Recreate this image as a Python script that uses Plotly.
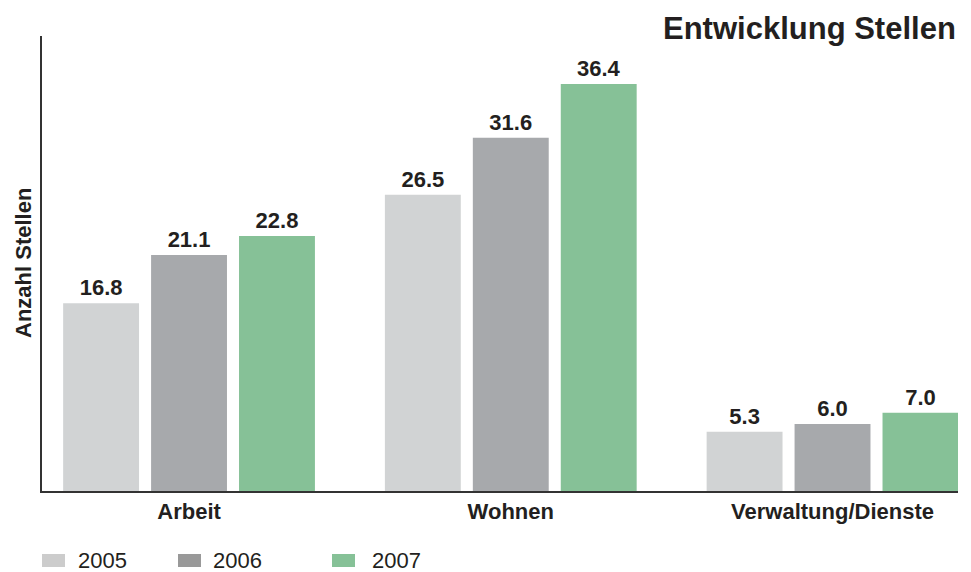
import plotly.graph_objects as go

categories = ["Arbeit", "Wohnen", "Verwaltung/Dienste"]
years = ["2005", "2006", "2007"]
values_2005 = [16.8, 26.5, 5.3]
values_2006 = [21.1, 31.6, 6.0]
values_2007 = [22.8, 36.4, 7.0]
series = [values_2005, values_2006, values_2007]

bar_colors = ["#d1d3d4", "#a7a9ac", "#86c197"]
legend_colors = ["#cccccc", "#999999", "#86c197"]
text_color = "#231f20"
FONT = "Liberation Sans, Arial, Helvetica, sans-serif"

W, H = 971, 572
ML, MR, MT, MB = 42, 13, 36, 81
PW, PH = W - ML - MR, H - MT - MB

fig = go.Figure()
for name, vals, col in zip(years, series, bar_colors):
    fig.add_trace(go.Bar(
        x=categories, y=vals, name=name,
        marker=dict(color=col, line=dict(width=0)),
        text=[f"{v:.1f}" for v in vals],
        textposition="outside",
        textfont=dict(family=FONT, size=22, color=text_color, weight="bold"),
        cliponaxis=False,
        showlegend=False,
    ))

def px_x(px):
    return (px - ML) / PW

def px_y(py):
    return (MT + PH - py) / PH

shapes = []
annotations = []
# legend (drawn manually)
leg_sq_x = [42, 178, 332]
leg_tx_x = [76, 211, 370]
for name, col, sx, tx in zip(years, legend_colors, leg_sq_x, leg_tx_x):
    shapes.append(dict(type="rect", xref="paper", yref="paper",
                       x0=px_x(sx), x1=px_x(sx + 23), y0=px_y(567), y1=px_y(554),
                       fillcolor=col, line=dict(width=0), layer="above"))
    annotations.append(dict(text=name, xref="paper", yref="paper",
                            x=px_x(tx), y=px_y(560), xanchor="left", yanchor="middle",
                            showarrow=False,
                            font=dict(family=FONT, size=22, color=text_color)))

# title
annotations.append(dict(text="<b>Entwicklung Stellen</b>", xref="paper", yref="paper",
                        x=1, y=px_y(28), xanchor="right", yanchor="middle", showarrow=False,
                        font=dict(family=FONT, size=31, color=text_color)))
# y-axis title
annotations.append(dict(text="<b>Anzahl Stellen</b>", xref="paper", yref="paper",
                        x=px_x(23), y=px_y(263), xanchor="center", yanchor="middle",
                        textangle=-90, showarrow=False,
                        font=dict(family=FONT, size=22, color=text_color)))

fig.update_layout(
    width=W, height=H,
    margin=dict(l=ML, r=MR, t=MT, b=MB, pad=0),
    paper_bgcolor="white", plot_bgcolor="white",
    barmode="group", bargap=0.18, bargroupgap=0.137,
    shapes=shapes, annotations=annotations,
    showlegend=False,
    xaxis=dict(type="category", range=[-0.457, 2.39], showline=True,
               linecolor="#333333", linewidth=1.5, ticks="", showgrid=False,
               zeroline=False, ticklabelstandoff=0,
               tickfont=dict(family=FONT, size=22, color=text_color, weight="bold")),
    yaxis=dict(range=[0, 40.7], showline=True, linecolor="#333333", linewidth=1.5,
               showticklabels=False, ticks="", showgrid=False, zeroline=False),
)

fig.write_html("out.html")
